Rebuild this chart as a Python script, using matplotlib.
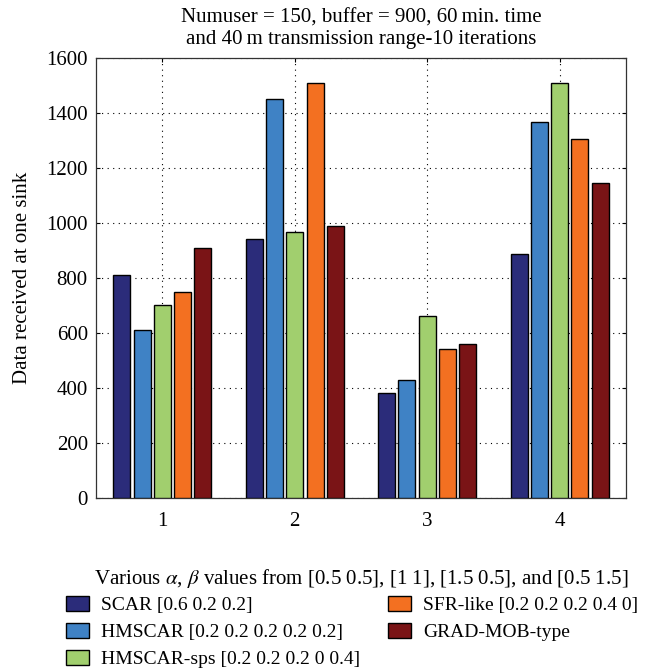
import matplotlib
matplotlib.use('Agg')
import matplotlib.pyplot as plt
import numpy as np

plt.rcParams['font.family'] = ['Liberation Serif', 'DejaVu Serif']
plt.rcParams['mathtext.fontset'] = 'stix'

# данные
groups = [1, 2, 3, 4]
series_names = ['SCAR [0.6 0.2 0.2]', 'HMSCAR [0.2 0.2 0.2 0.2 0.2]',
                'HMSCAR-sps [0.2 0.2 0.2 0 0.4]', 'SFR-like [0.2 0.2 0.2 0.4 0]',
                'GRAD-MOB-type']
scar = [810, 940, 380, 885]
hmscar = [610, 1450, 430, 1365]
hmscar_sps = [700, 965, 660, 1510]
sfr_like = [750, 1510, 540, 1305]
grad_mob = [910, 990, 560, 1145]
colors = ['#2b2c7a', '#3f82c5', '#a1cf6e', '#f37021', '#7a1416']

series = [scar, hmscar, hmscar_sps, sfr_like, grad_mob]

fig = plt.figure(figsize=(6.54, 6.72), dpi=100)
ax = fig.add_axes([0.147, 0.259, 0.810, 0.655])

x = np.array(groups)
step = 0.153
width = 0.128
for i, vals in enumerate(series):
    ax.bar(x + (i - 2) * step, vals, width, color=colors[i], edgecolor='black',
           linewidth=1.0, label=series_names[i], zorder=3)

ax.set_xlim(0.5, 4.5)
ax.set_ylim(0, 1600)
ax.set_xticks(groups)
ax.set_yticks(range(0, 1601, 200))
ax.grid(True, linestyle=(0, (1, 4)), color='black', linewidth=0.8, zorder=0)
ax.tick_params(direction='in', top=True, right=True, labelsize=15, length=3, pad=6)
ax.tick_params(axis='x', pad=10)
for s in ax.spines.values():
    s.set_linewidth(0.9)
    s.set_color('#333333')

ax.set_title('Numuser = 150, buffer = 900, 60\u2009min. time\nand 40\u2009m transmission range-10 iterations',
             fontsize=15, linespacing=1.2, pad=10)
ax.set_ylabel('Data received at one sink', fontsize=15, labelpad=10)
ax.set_xlabel(r'Various $\alpha$, $\beta$ values from [0.5 0.5], [1 1], [1.5 0.5], and [0.5 1.5]',
              fontsize=15, labelpad=26)

fig.legend(loc='upper left', bbox_to_anchor=(66 / 654, 1 - 596 / 672), ncol=2, frameon=False,
           fontsize=14, handlelength=1.18, handleheight=0.8, labelspacing=0.45,
           columnspacing=1.45, handletextpad=0.62, borderpad=0, borderaxespad=0)

plt.savefig('out.png')
